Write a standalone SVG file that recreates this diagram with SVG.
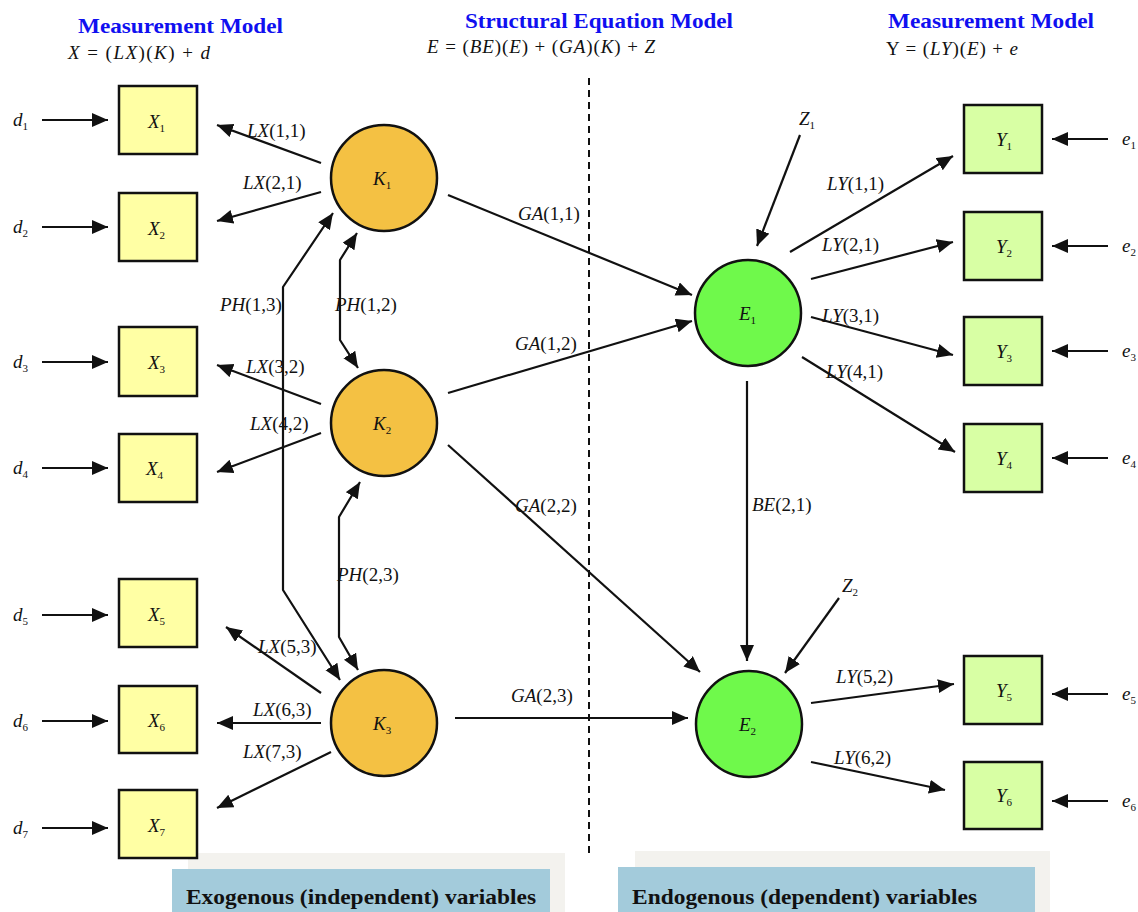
<svg xmlns="http://www.w3.org/2000/svg" width="1138" height="912" viewBox="0 0 1138 912">
  <style>
    .t { font-family: "Liberation Serif", "Times New Roman", serif; fill: #111; }
    .lbl { font-size: 19px; }
    .i { font-style: italic; }
    .sub { font-size: 11px; }
    .head { font-family: "Liberation Serif", serif; font-weight: bold; font-size: 21px; fill: #1010f0; }
    .foot { font-family: "Liberation Serif", serif; font-weight: bold; font-size: 21px; fill: #111; }
    .xbox { fill: #ffffa4; stroke: #111; stroke-width: 2.5; }
    .ybox { fill: #d8ffa4; stroke: #111; stroke-width: 2.5; }
    .kc { fill: #f4c143; stroke: #111; stroke-width: 2.5; }
    .ec { fill: #6ff94b; stroke: #111; stroke-width: 2.5; }
    .c { fill: none; stroke: #111; stroke-width: 2.2; marker-end: url(#ah); }
    .d { fill: none; stroke: #111; stroke-width: 2.2; marker-start: url(#ah); marker-end: url(#ah); }
  </style>
  <defs>
    <marker id="ah" markerUnits="userSpaceOnUse" markerWidth="17" markerHeight="15" refX="16" refY="7" orient="auto-start-reverse">
      <path d="M0,0 L16,7 L0,14 z" fill="#111"/>
    </marker>
  </defs>

  <rect width="1138" height="912" fill="#fff"/>

  <!-- headers -->
  <g id="headers">
    <text class="head" x="78" y="33" textLength="205" lengthAdjust="spacingAndGlyphs">Measurement Model</text>
    <text class="t" x="68" y="59" font-size="19" textLength="142" lengthAdjust="spacing"><tspan class="i">X</tspan> = (<tspan class="i">LX</tspan>)(<tspan class="i">K</tspan>) + <tspan class="i">d</tspan></text>
    <text class="head" x="465" y="28" textLength="268" lengthAdjust="spacingAndGlyphs">Structural Equation Model</text>
    <text class="t" x="427" y="53" font-size="19" textLength="228" lengthAdjust="spacing"><tspan class="i">E</tspan> = (<tspan class="i">BE</tspan>)(<tspan class="i">E</tspan>) + (<tspan class="i">GA</tspan>)(<tspan class="i">K</tspan>) + <tspan class="i">Z</tspan></text>
    <text class="head" x="888" y="28" textLength="206" lengthAdjust="spacingAndGlyphs">Measurement Model</text>
    <text class="t" x="886" y="55" font-size="19" textLength="132" lengthAdjust="spacing">Y = (<tspan class="i">LY</tspan>)(<tspan class="i">E</tspan>) + <tspan class="i">e</tspan></text>
  </g>

  <!-- divider between exogenous and endogenous parts -->
  <line x1="589" y1="78" x2="589" y2="858" stroke="#111" stroke-width="2" stroke-dasharray="7,5"/>

  <!-- footer captions -->
  <g id="footer-exo">
    <rect x="188" y="853" width="377" height="59" fill="#f3f2ee"/>
    <rect x="172" y="869" width="378" height="43" fill="#a3cbdb"/>
    <text class="foot" x="186" y="904" textLength="350" lengthAdjust="spacingAndGlyphs">Exogenous (independent) variables</text>
  </g>
  <g id="footer-endo">
    <rect x="635" y="851" width="415" height="61" fill="#f3f2ee"/>
    <rect x="618" y="867" width="417" height="45" fill="#a3cbdb"/>
    <text class="foot" x="632" y="904" textLength="345" lengthAdjust="spacingAndGlyphs">Endogenous (dependent) variables</text>
  </g>

  <!-- connectors -->
  <g id="connectors">
    <!-- error terms into X indicators -->
    <line class="c" x1="42" y1="120" x2="108" y2="120"/>
    <line class="c" x1="42" y1="227" x2="108" y2="227"/>
    <line class="c" x1="42" y1="362" x2="108" y2="362"/>
    <line class="c" x1="42" y1="468" x2="108" y2="468"/>
    <line class="c" x1="42" y1="615" x2="108" y2="615"/>
    <line class="c" x1="42" y1="721" x2="108" y2="721"/>
    <line class="c" x1="42" y1="828" x2="108" y2="828"/>

    <!-- loadings of X on K -->
    <line class="c" x1="321" y1="163" x2="217" y2="125"/>
    <line class="c" x1="321" y1="192" x2="217" y2="221"/>
    <line class="c" x1="321" y1="404" x2="217" y2="365"/>
    <line class="c" x1="321" y1="433" x2="217" y2="472"/>
    <line class="c" x1="321" y1="693" x2="226" y2="627"/>
    <line class="c" x1="321" y1="723" x2="217" y2="723"/>
    <line class="c" x1="331" y1="752" x2="217" y2="808"/>

    <!-- covariances among K -->
    <polyline class="d" points="357,233 340,260 340,340 358,368"/>
    <polyline class="d" points="333,213 283,287 283,590 340,680"/>
    <polyline class="d" points="360,482 339,517 339,637 358,670"/>

    <!-- structural paths K -> E -->
    <line class="c" x1="448" y1="195" x2="692" y2="295"/>
    <line class="c" x1="448" y1="393" x2="692" y2="321"/>
    <line class="c" x1="448" y1="445" x2="700" y2="672"/>
    <line class="c" x1="455" y1="718" x2="688" y2="718"/>

    <!-- E1 -> E2 and disturbances -->
    <line class="c" x1="747" y1="381" x2="747" y2="661"/>
    <line class="c" x1="800" y1="135" x2="757" y2="246"/>
    <line class="c" x1="839" y1="598" x2="785" y2="673"/>

    <!-- loadings of Y on E -->
    <line class="c" x1="790" y1="252" x2="953" y2="156"/>
    <line class="c" x1="811" y1="279" x2="953" y2="242"/>
    <line class="c" x1="811" y1="317" x2="953" y2="355"/>
    <line class="c" x1="802" y1="357" x2="955" y2="452"/>
    <line class="c" x1="811" y1="703" x2="954" y2="684"/>
    <line class="c" x1="811" y1="762" x2="945" y2="790"/>

    <!-- error terms into Y indicators -->
    <line class="c" x1="1108" y1="139" x2="1052" y2="139"/>
    <line class="c" x1="1108" y1="246" x2="1052" y2="246"/>
    <line class="c" x1="1108" y1="351" x2="1052" y2="351"/>
    <line class="c" x1="1108" y1="458" x2="1052" y2="458"/>
    <line class="c" x1="1108" y1="694" x2="1052" y2="694"/>
    <line class="c" x1="1108" y1="801" x2="1052" y2="801"/>
  </g>

  <!-- path labels -->
  <g id="path-labels" class="t lbl">
    <text x="247" y="137"><tspan class="i">LX</tspan>(1,1)</text>
    <text x="243" y="189"><tspan class="i">LX</tspan>(2,1)</text>
    <text x="246" y="373"><tspan class="i">LX</tspan>(3,2)</text>
    <text x="250" y="430"><tspan class="i">LX</tspan>(4,2)</text>
    <text x="258" y="653"><tspan class="i">LX</tspan>(5,3)</text>
    <text x="253" y="716"><tspan class="i">LX</tspan>(6,3)</text>
    <text x="243" y="758"><tspan class="i">LX</tspan>(7,3)</text>
    <text x="220" y="311"><tspan class="i">PH</tspan>(1,3)</text>
    <text x="335" y="311"><tspan class="i">PH</tspan>(1,2)</text>
    <text x="337" y="581"><tspan class="i">PH</tspan>(2,3)</text>
    <text x="518" y="220"><tspan class="i">GA</tspan>(1,1)</text>
    <text x="515" y="350"><tspan class="i">GA</tspan>(1,2)</text>
    <text x="515" y="512"><tspan class="i">GA</tspan>(2,2)</text>
    <text x="511" y="702"><tspan class="i">GA</tspan>(2,3)</text>
    <text x="752" y="511"><tspan class="i">BE</tspan>(2,1)</text>
    <text x="827" y="190"><tspan class="i">LY</tspan>(1,1)</text>
    <text x="822" y="251"><tspan class="i">LY</tspan>(2,1)</text>
    <text x="822" y="322"><tspan class="i">LY</tspan>(3,1)</text>
    <text x="826" y="378"><tspan class="i">LY</tspan>(4,1)</text>
    <text x="836" y="683"><tspan class="i">LY</tspan>(5,2)</text>
    <text x="834" y="764"><tspan class="i">LY</tspan>(6,2)</text>
    <text x="799" y="125"><tspan class="i">Z</tspan><tspan class="sub" dy="4">1</tspan></text>
    <text x="842" y="592"><tspan class="i">Z</tspan><tspan class="sub" dy="4">2</tspan></text>
  </g>

  <!-- error term symbols -->
  <g id="errors" class="t lbl">
    <text x="13" y="126"><tspan class="i">d</tspan><tspan class="sub" dy="4">1</tspan></text>
    <text x="13" y="233"><tspan class="i">d</tspan><tspan class="sub" dy="4">2</tspan></text>
    <text x="13" y="368"><tspan class="i">d</tspan><tspan class="sub" dy="4">3</tspan></text>
    <text x="13" y="474"><tspan class="i">d</tspan><tspan class="sub" dy="4">4</tspan></text>
    <text x="13" y="621"><tspan class="i">d</tspan><tspan class="sub" dy="4">5</tspan></text>
    <text x="13" y="727"><tspan class="i">d</tspan><tspan class="sub" dy="4">6</tspan></text>
    <text x="13" y="834"><tspan class="i">d</tspan><tspan class="sub" dy="4">7</tspan></text>
    <text x="1122" y="145"><tspan class="i">e</tspan><tspan class="sub" dy="4">1</tspan></text>
    <text x="1122" y="252"><tspan class="i">e</tspan><tspan class="sub" dy="4">2</tspan></text>
    <text x="1122" y="357"><tspan class="i">e</tspan><tspan class="sub" dy="4">3</tspan></text>
    <text x="1122" y="464"><tspan class="i">e</tspan><tspan class="sub" dy="4">4</tspan></text>
    <text x="1122" y="700"><tspan class="i">e</tspan><tspan class="sub" dy="4">5</tspan></text>
    <text x="1122" y="807"><tspan class="i">e</tspan><tspan class="sub" dy="4">6</tspan></text>
  </g>

  <!-- observed exogenous indicators -->
  <g id="X1"><rect class="xbox" x="119" y="86" width="78" height="68"/><text class="t lbl" x="148" y="128"><tspan class="i">X</tspan><tspan class="sub" dy="4">1</tspan></text></g>
  <g id="X2"><rect class="xbox" x="119" y="193" width="78" height="68"/><text class="t lbl" x="148" y="235"><tspan class="i">X</tspan><tspan class="sub" dy="4">2</tspan></text></g>
  <g id="X3"><rect class="xbox" x="119" y="327" width="78" height="69"/><text class="t lbl" x="148" y="369"><tspan class="i">X</tspan><tspan class="sub" dy="4">3</tspan></text></g>
  <g id="X4"><rect class="xbox" x="119" y="434" width="78" height="68"/><text class="t lbl" x="146" y="475"><tspan class="i">X</tspan><tspan class="sub" dy="4">4</tspan></text></g>
  <g id="X5"><rect class="xbox" x="119" y="579" width="78" height="68"/><text class="t lbl" x="148" y="621"><tspan class="i">X</tspan><tspan class="sub" dy="4">5</tspan></text></g>
  <g id="X6"><rect class="xbox" x="119" y="686" width="78" height="67"/><text class="t lbl" x="148" y="727"><tspan class="i">X</tspan><tspan class="sub" dy="4">6</tspan></text></g>
  <g id="X7"><rect class="xbox" x="119" y="790" width="78" height="68"/><text class="t lbl" x="148" y="832"><tspan class="i">X</tspan><tspan class="sub" dy="4">7</tspan></text></g>

  <!-- latent exogenous factors -->
  <g id="K1"><circle class="kc" cx="384" cy="178" r="53"/><text class="t lbl" x="373" y="185"><tspan class="i">K</tspan><tspan class="sub" dy="4">1</tspan></text></g>
  <g id="K2"><circle class="kc" cx="384" cy="423" r="53"/><text class="t lbl" x="373" y="430"><tspan class="i">K</tspan><tspan class="sub" dy="4">2</tspan></text></g>
  <g id="K3"><circle class="kc" cx="384" cy="723" r="53"/><text class="t lbl" x="373" y="730"><tspan class="i">K</tspan><tspan class="sub" dy="4">3</tspan></text></g>

  <!-- latent endogenous factors -->
  <g id="E1"><circle class="ec" cx="748" cy="313" r="53"/><text class="t lbl" x="739" y="320"><tspan class="i">E</tspan><tspan class="sub" dy="4">1</tspan></text></g>
  <g id="E2"><circle class="ec" cx="749" cy="724" r="53"/><text class="t lbl" x="739" y="731"><tspan class="i">E</tspan><tspan class="sub" dy="4">2</tspan></text></g>

  <!-- observed endogenous indicators -->
  <g id="Y1"><rect class="ybox" x="964" y="105" width="78" height="68"/><text class="t lbl" x="996" y="146"><tspan class="i">Y</tspan><tspan class="sub" dy="4">1</tspan></text></g>
  <g id="Y2"><rect class="ybox" x="964" y="212" width="78" height="68"/><text class="t lbl" x="996" y="253"><tspan class="i">Y</tspan><tspan class="sub" dy="4">2</tspan></text></g>
  <g id="Y3"><rect class="ybox" x="964" y="317" width="78" height="68"/><text class="t lbl" x="996" y="358"><tspan class="i">Y</tspan><tspan class="sub" dy="4">3</tspan></text></g>
  <g id="Y4"><rect class="ybox" x="964" y="424" width="78" height="68"/><text class="t lbl" x="996" y="465"><tspan class="i">Y</tspan><tspan class="sub" dy="4">4</tspan></text></g>
  <g id="Y5"><rect class="ybox" x="964" y="656" width="78" height="68"/><text class="t lbl" x="996" y="697"><tspan class="i">Y</tspan><tspan class="sub" dy="4">5</tspan></text></g>
  <g id="Y6"><rect class="ybox" x="964" y="762" width="78" height="67"/><text class="t lbl" x="996" y="802"><tspan class="i">Y</tspan><tspan class="sub" dy="4">6</tspan></text></g>
</svg>
